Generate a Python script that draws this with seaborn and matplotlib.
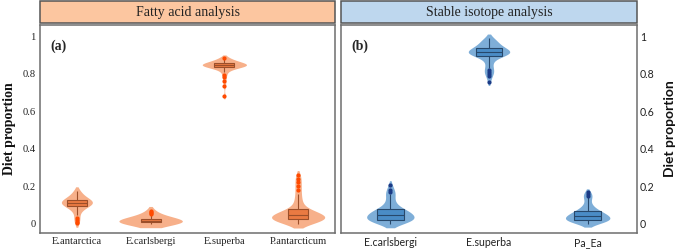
import pandas as pd
import matplotlib.pyplot as plt
import seaborn as sns
from matplotlib.patches import Rectangle
from matplotlib.ticker import FuncFormatter

fa_categories = ['E.antarctica', 'E.carlsbergi', 'E.superba', 'P.antarcticum']
fa_e_antarctica = [0.002, 0.01, 0.02, 0.03, 0.045, 0.06, 0.07, 0.078, 0.085, 0.09,
                   0.093, 0.096, 0.099, 0.101, 0.103, 0.105, 0.107, 0.108, 0.109, 0.11,
                   0.112, 0.113, 0.115, 0.116, 0.118, 0.119, 0.12, 0.122, 0.123, 0.125,
                   0.128, 0.131, 0.135, 0.139, 0.144, 0.15, 0.157, 0.164, 0.171, 0.175]
fa_e_carlsbergi = [0.0, 0.001, 0.002, 0.003, 0.003, 0.004, 0.004, 0.005, 0.005, 0.006,
                   0.007, 0.008, 0.008, 0.009, 0.01, 0.01, 0.011, 0.011, 0.012, 0.012,
                   0.013, 0.014, 0.015, 0.016, 0.017, 0.018, 0.019, 0.02, 0.021, 0.022,
                   0.024, 0.027, 0.03, 0.034, 0.038, 0.045, 0.05, 0.056, 0.063, 0.07]
fa_e_superba = [0.68, 0.735, 0.76, 0.78, 0.795, 0.808, 0.818, 0.826, 0.831, 0.834,
                0.836, 0.838, 0.839, 0.84, 0.841, 0.842, 0.843, 0.844, 0.845, 0.845,
                0.846, 0.847, 0.848, 0.849, 0.85, 0.851, 0.852, 0.853, 0.854, 0.855,
                0.857, 0.859, 0.861, 0.864, 0.867, 0.87, 0.873, 0.877, 0.881, 0.886]
fa_p_antarcticum = [0.0, 0.003, 0.006, 0.009, 0.012, 0.014, 0.016, 0.018, 0.019, 0.02,
                    0.022, 0.024, 0.026, 0.028, 0.03, 0.032, 0.034, 0.036, 0.038, 0.04,
                    0.042, 0.044, 0.046, 0.048, 0.05, 0.052, 0.054, 0.056, 0.058, 0.06,
                    0.064, 0.07, 0.077, 0.085, 0.095, 0.108, 0.125, 0.14, 0.16, 0.18,
                    0.2, 0.22, 0.24, 0.26]

si_categories = ['E.carlsbergi', 'E.superba', 'Pa_Ea']
si_e_carlsbergi = [0.0, 0.004, 0.008, 0.011, 0.013, 0.015, 0.016, 0.017, 0.018, 0.019,
                   0.021, 0.024, 0.027, 0.03, 0.033, 0.036, 0.038, 0.04, 0.042, 0.044,
                   0.047, 0.05, 0.053, 0.056, 0.059, 0.062, 0.064, 0.066, 0.068, 0.07,
                   0.075, 0.08, 0.087, 0.095, 0.105, 0.118, 0.132, 0.15, 0.16, 0.17,
                   0.18, 0.207]
si_e_superba = [0.757, 0.787, 0.8, 0.81, 0.818, 0.83, 0.845, 0.86, 0.875, 0.89,
                0.893, 0.896, 0.899, 0.902, 0.904, 0.906, 0.908, 0.91, 0.912, 0.913,
                0.915, 0.917, 0.919, 0.921, 0.923, 0.926, 0.928, 0.93, 0.933, 0.936,
                0.94, 0.945, 0.95, 0.955, 0.96, 0.965, 0.97, 0.977, 0.984, 0.992]
si_pa_ea = [0.0, 0.004, 0.008, 0.011, 0.013, 0.014, 0.015, 0.016, 0.017, 0.018,
            0.02, 0.022, 0.024, 0.026, 0.028, 0.03, 0.032, 0.034, 0.036, 0.039,
            0.041, 0.043, 0.045, 0.047, 0.049, 0.052, 0.055, 0.058, 0.06, 0.062,
            0.066, 0.07, 0.075, 0.081, 0.088, 0.097, 0.108, 0.13, 0.14, 0.15,
            0.158, 0.167]

y_ticks = [0, 0.2, 0.4, 0.6, 0.8, 1]

# style: violin width (fraction of slot) and kde smoothing per category
fa_widths = [0.42, 0.86, 0.6, 0.72]
fa_bw = [1.1, 2.6, 0.75, 0.75]
si_widths = [0.48, 0.42, 0.45]
si_bw = [0.9, 0.75, 0.9]

SERIF = 'Liberation Serif'
SANS = 'Lato'


def to_long(categories, samples):
    rows = []
    for cat, vals in zip(categories, samples):
        rows += [(cat, v) for v in vals]
    return pd.DataFrame(rows, columns=['source', 'proportion'])


def draw_panel(ax, df, order, widths, bws, violin_col, box_col, edge_col, flier_col):
    for cat, w, bw in zip(order, widths, bws):
        sns.violinplot(data=df[df['source'] == cat], x='source', y='proportion',
                       order=order, ax=ax, color=violin_col, saturation=1,
                       inner=None, linewidth=0, width=w, density_norm='width',
                       bw_adjust=bw, cut=1)
    sns.boxplot(data=df, x='source', y='proportion', order=order, ax=ax,
                width=0.27, color=box_col, saturation=1, linewidth=0.8,
                linecolor=edge_col, showcaps=False,
                flierprops=dict(marker='o', markersize=2.0, markerfacecolor=flier_col,
                                markeredgecolor=flier_col))
    ax.set_ylim(-0.05, 1.06)
    ax.set_xlim(-0.5, len(order) - 0.5)
    ax.set_yticks(y_ticks)
    ax.yaxis.set_major_formatter(FuncFormatter(lambda v, p: f'{v:g}'))
    ax.set_xlabel('')
    ax.set_ylabel('')
    ax.tick_params(length=0, pad=3)
    for s in ax.spines.values():
        s.set_color('#6e6e6e')
        s.set_linewidth(1.1)


def add_strip(ax, text, face):
    ax.add_patch(Rectangle((0, 1.01), 1, 0.105, transform=ax.transAxes, clip_on=False,
                           facecolor=face, edgecolor='#555555', linewidth=1.1))
    ax.text(0.5, 1.0625, text, transform=ax.transAxes, ha='center', va='center',
            fontsize=10, family=SERIF, color='#222222')


sns.set_theme(style='white')
fig = plt.figure(figsize=(6.76, 2.5), dpi=100)
ax1 = fig.add_axes([40 / 676, 17 / 250, 295 / 676, 208 / 250])
ax2 = fig.add_axes([341 / 676, 17 / 250, 296 / 676, 208 / 250])

fa_df = to_long(fa_categories, [fa_e_antarctica, fa_e_carlsbergi, fa_e_superba, fa_p_antarcticum])
si_df = to_long(si_categories, [si_e_carlsbergi, si_e_superba, si_pa_ea])

draw_panel(ax1, fa_df, fa_categories, fa_widths, fa_bw,
           '#f7b08a', '#ea7a42', '#9c4f2a', '#ff4a00')
draw_panel(ax2, si_df, si_categories, si_widths, si_bw,
           '#7eaed8', '#4a8cc6', '#27486b', '#1b3a85')

ax2.yaxis.tick_right()
ax2.yaxis.set_label_position('right')
ax2.tick_params(axis='y', pad=2)

for lab in ax1.get_xticklabels() + ax1.get_yticklabels():
    lab.set_family(SERIF)
    lab.set_fontsize(7.6)
    lab.set_color('#222222')
for lab in ax2.get_xticklabels() + ax2.get_yticklabels():
    lab.set_family(SANS)
    lab.set_fontsize(7.6)
    lab.set_color('#222222')

ax1.set_ylabel('Diet proportion', family=SERIF, fontweight='bold', fontsize=10,
               labelpad=5, color='#111111')
ax2.set_ylabel('Diet proportion', family=SANS, fontweight='bold', fontsize=10,
               labelpad=7, rotation=90, color='#111111')

ax1.text(0.035, 0.9, '(a)', transform=ax1.transAxes, fontsize=10, fontweight='bold',
         family=SERIF, va='center')
ax2.text(0.035, 0.9, '(b)', transform=ax2.transAxes, fontsize=10, fontweight='bold',
         family=SERIF, va='center')

add_strip(ax1, 'Fatty acid analysis', '#fcc6a0')
add_strip(ax2, 'Stable isotope analysis', '#bed7ee')

fig.savefig('out.png', dpi=100)
